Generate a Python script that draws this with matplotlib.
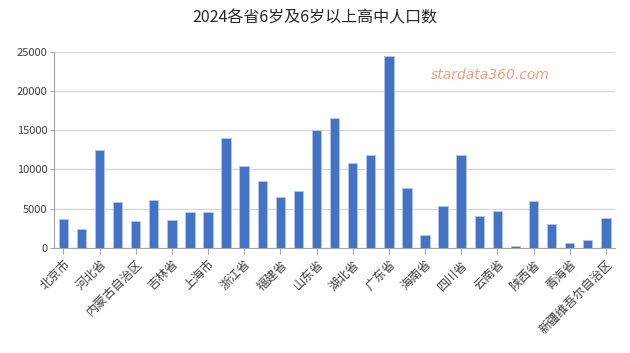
import matplotlib
matplotlib.use("Agg")
import matplotlib.pyplot as plt
import numpy as np

plt.rcParams['font.family'] = ['Noto Sans CJK SC', 'DejaVu Sans']

provinces = ["北京市", "天津市", "河北省", "山西省", "内蒙古自治区", "辽宁省", "吉林省", "黑龙江省",
             "上海市", "江苏省", "浙江省", "安徽省", "福建省", "江西省", "山东省", "河南省",
             "湖北省", "湖南省", "广东省", "广西壮族自治区", "海南省", "重庆市", "四川省", "贵州省",
             "云南省", "西藏自治区", "陕西省", "甘肃省", "青海省", "宁夏回族自治区", "新疆维吾尔自治区"]
values = [3650, 2370, 12470, 5890, 3480, 6060, 3560, 4540,
          4540, 13950, 10470, 8520, 6490, 7250, 15010, 16620,
          10770, 11790, 24470, 7590, 1650, 5300, 11830, 4030,
          4710, 250, 5940, 3100, 680, 980, 3860]
yticks = [0, 5000, 10000, 15000, 20000, 25000]

fig = plt.figure(figsize=(6.3, 3.53), dpi=100)
ax = fig.add_axes([0.0862, 0.2975, 0.8898, 0.556])

x = np.arange(len(provinces))
ax.bar(x, values, width=0.52, color="#4472C4", edgecolor="#b4c7e7", linewidth=0.6, zorder=3)

ax.set_xlim(-0.5, len(provinces) - 0.5)
ax.set_ylim(0, 25000)
ax.set_yticks(yticks)
ax.set_yticklabels([str(v) for v in yticks], fontsize=8, color="#404040")
ax.yaxis.grid(True, color="#d9d9d9", linewidth=1, zorder=0)

ax.set_xticks(x[::2])
ax.set_xticklabels(provinces[::2], rotation=45, ha="right", rotation_mode="anchor",
                   fontsize=8.8, color="#404040")
ax.tick_params(axis="x", length=4, color="#a6a6a6", pad=3)
ax.tick_params(axis="y", length=3, color="#a6a6a6", pad=2)

for s in ["top", "right"]:
    ax.spines[s].set_visible(False)
for s in ["left", "bottom"]:
    ax.spines[s].set_color("#a6a6a6")

fig.text(0.5, 0.948, "2024各省6岁及6岁以上高中人口数", ha="center", va="center",
         fontsize=11.5, color="#262626")
fig.text(0.779, 0.787, "stardata360.com", ha="center", va="center",
         fontsize=10, color="#f4a07f", family="DejaVu Sans", style="italic")

fig.savefig("out.png", dpi=100)
